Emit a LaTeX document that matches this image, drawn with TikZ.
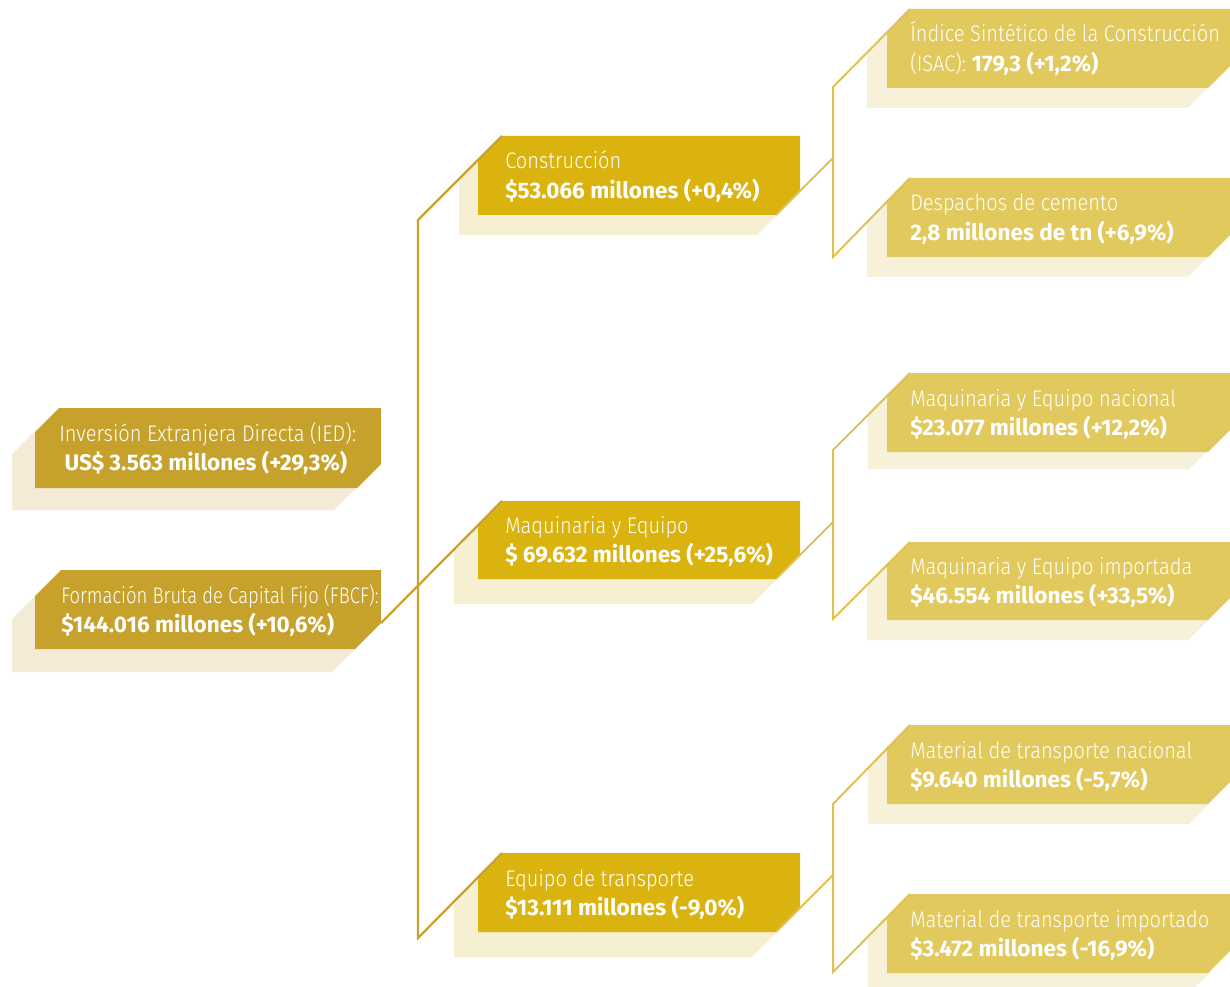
\documentclass[tikz,border=0pt]{standalone}
\usepackage{graphicx}
\usepackage{fontspec}
\setmainfont{Fira Sans}[UprightFont=* Light, UprightFeatures={FakeStretch=0.89}, BoldFont=* Bold, BoldFeatures={FakeStretch=1.0}]
\definecolor{lbox}{HTML}{C6A22C}
\definecolor{lshadow}{HTML}{F3EBD6}
\definecolor{mbox}{HTML}{DBB30E}
\definecolor{mshadow}{HTML}{F7EFD1}
\definecolor{rbox}{HTML}{E2C95E}
\definecolor{rshadow}{HTML}{F8F1D9}
\definecolor{lline}{HTML}{C8A230}
\definecolor{rline}{HTML}{DFC254}
\tikzset{
  txt/.style={anchor=base west, inner sep=0pt, text=white, font=\fontsize{16.9pt}{22.1pt}\selectfont},
  lconn/.style={draw=lline, line width=1.7pt},
  rconn/.style={draw=rline, line width=1.5pt},
}
% name, x0, y0, x1, y1, c, shadow shift, box colour, shadow colour
\newcommand\cutbox[9]{%
  \begin{scope}[shift={(#7)}]
    \fill[#9] (#2,{#3+#6}) -- ({#2+#6},#3) -- (#4,#3) -- (#4,{#5-#6}) -- ({#4-#6},#5) -- (#2,#5) -- cycle;
  \end{scope}
  \fill[#8] (#2,{#3+#6}) -- ({#2+#6},#3) -- (#4,#3) -- (#4,{#5-#6}) -- ({#4-#6},#5) -- (#2,#5) -- cycle;
  \coordinate (#1-tl) at ({#2+#6},#3);
  \coordinate (#1-ct) at (#4,{#5-#6});
  \coordinate (#1-cb) at ({#4-#6},#5);
  \coordinate (#1-t) at ({#2+#6},{(#3+#5)/2-6.5});
}
\newcommand\twolines[2]{\begin{tabular}[t]{@{}l@{}}#1\\#2\end{tabular}}
\begin{document}
\begin{tikzpicture}[x=0.75pt,y=-0.75pt]
\useasboundingbox (0,0) rectangle (1230,987);
% left boxes
\cutbox{ied}{35}{408}{381}{488}{24}{-23,22}{lbox}{lshadow}
\cutbox{fbcf}{35}{570}{381}{649}{26}{-23,23}{lbox}{lshadow}
% middle boxes
\cutbox{cons}{478}{136}{800}{215}{24}{-19,20}{mbox}{mshadow}
\cutbox{maq}{478}{501}{800}{579}{24}{-24,25}{mbox}{mshadow}
\cutbox{equ}{478}{853}{800}{932}{24}{-24,25}{mbox}{mshadow}
% right boxes
\cutbox{isac}{887}{9}{1231}{88}{23}{-20,20}{rbox}{rshadow}
\cutbox{desp}{887}{178}{1231}{257}{23}{-20,20}{rbox}{rshadow}
\cutbox{mnac}{887}{373}{1231}{452}{23}{-19,17}{rbox}{rshadow}
\cutbox{mimp}{887}{542}{1231}{620}{23}{-20,20}{rbox}{rshadow}
\cutbox{tnac}{887}{725}{1231}{804}{23}{-19,20}{rbox}{rshadow}
\cutbox{timp}{887}{894}{1231}{973}{23}{-19,20}{rbox}{rshadow}
% junction points
\coordinate (lv-top) at (418,220);
\coordinate (lv-bot) at (418,938);
\coordinate (r1-top) at (833,87);
\coordinate (r1-mid) at (833,158);
\coordinate (r1-bot) at (833,257);
\coordinate (r2-top) at (833,450);
\coordinate (r2-mid) at (833,522);
\coordinate (r2-bot) at (833,619);
\coordinate (r3-top) at (833,804);
\coordinate (r3-mid) at (833,875);
\coordinate (r3-bot) at (833,972);
% connectors
\draw[lconn] (cons-tl) -- (lv-top) -- (lv-bot) -- (equ-tl);
\draw[lconn] (fbcf-ct) -- (maq-tl);
\draw[rconn] (cons-cb) -- (r1-mid);
\draw[rconn] (isac-tl) -- (r1-top) -- (r1-bot) -- (desp-tl);
\draw[rconn] (maq-cb) -- (r2-mid);
\draw[rconn] (mnac-tl) -- (r2-top) -- (r2-bot) -- (mimp-tl);
\draw[rconn] (equ-cb) -- (r3-mid);
\draw[rconn] (tnac-tl) -- (r3-top) -- (r3-bot) -- (timp-tl);
% texts
\node[txt] (ied-text) at (ied-t) {\twolines{Inversión Extranjera Directa (IED):}{\hspace{4pt}\textbf{US\$ 3.563 millones (+29,3\%)}}};
\node[txt] (fbcf-text) at (fbcf-t) {\twolines{\scalebox{0.92}[1]{Formación Bruta de Capital Fijo (FBCF):}}{\textbf{\$144.016 millones (+10,6\%)}}};
\node[txt] (cons-text) at ([xshift=2.25pt]cons-t) {\twolines{Construcción}{\textbf{\$53.066 millones (+0,4\%)}}};
\node[txt] (maq-text) at ([xshift=2.25pt]maq-t) {\twolines{Maquinaria y Equipo}{\textbf{\$ 69.632 millones (+25,6\%)}}};
\node[txt] (equ-text) at ([xshift=2.25pt]equ-t) {\twolines{Equipo de transporte}{\textbf{\$13.111 millones (-9,0\%)}}};
\node[txt] (isac-text) at (isac-t) {\twolines{Índice Sintético de la Construcción}{(ISAC): \textbf{179,3 (+1,2\%)}}};
\node[txt] (desp-text) at (desp-t) {\twolines{Despachos de cemento}{\textbf{2,8 millones de tn (+6,9\%)}}};
\node[txt] (mnac-text) at (mnac-t) {\twolines{Maquinaria y Equipo nacional}{\textbf{\$23.077 millones (+12,2\%)}}};
\node[txt] (mimp-text) at (mimp-t) {\twolines{Maquinaria y Equipo importada}{\textbf{\$46.554 millones (+33,5\%)}}};
\node[txt] (tnac-text) at (tnac-t) {\twolines{Material de transporte nacional}{\textbf{\$9.640 millones (-5,7\%)}}};
\node[txt] (timp-text) at (timp-t) {\twolines{Material de transporte importado}{\textbf{\$3.472 millones (-16,9\%)}}};
\end{tikzpicture}
\end{document}
